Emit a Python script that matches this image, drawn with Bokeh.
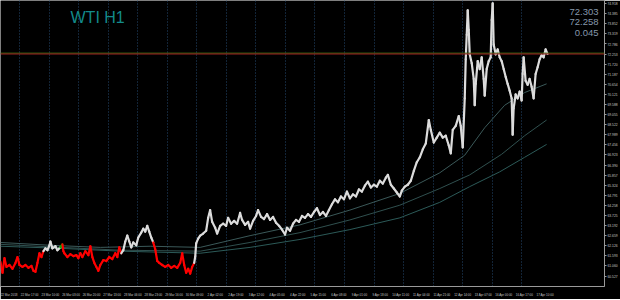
from bokeh.plotting import figure
from bokeh.models import FixedTicker, Label, Span, Range1d, NumeralTickFormatter
from bokeh.embed import file_html
from bokeh.resources import INLINE

symbol = "WTI"
timeframe = "H1"
ask = 72.303
bid = 72.258
spread = 0.045

# price path (bar index, price)
bars = [0, 1, 2, 3, 4.5, 6, 7.5, 8.5, 9.5, 11, 12.5, 14, 15.5, 16.5, 17.5, 18.5, 19.5, 20.5, 21.5,
        22.5, 23.5, 24.5, 25, 26, 27.5, 28.5, 30, 31, 31.5,
        32, 33.5, 35, 36.5, 38, 39, 40, 41, 42.5, 44, 45, 46, 47, 48, 49, 50, 51.5, 53, 54.5, 56, 57.5, 58.5, 59.5, 60.5,
        61.5, 62.5, 63.5, 64.5, 65.5, 66.5, 68, 69, 70.5, 71.5, 72.5, 73.5, 74.5, 75.5, 76.5,
        77.5, 78.5, 79.5, 81, 82.5, 84, 85.5, 87, 88.5, 90, 91, 92, 93, 94, 95, 96, 97,
        97.5, 98, 99, 100, 101.5, 103, 104, 105, 106, 107.5, 108.5, 110, 111.5, 113, 114, 115.5, 117, 118.5, 120, 121,
        122.5, 124, 125, 126.5, 128, 129, 130.5, 132, 133.5, 135, 136.5, 138, 139.5, 141, 142.5, 143.5, 145, 146.5, 148, 149.5,
        151, 152.5, 154, 155.5, 157, 158.5, 160, 161.5, 163, 164.5, 166, 167.5, 169, 170.5, 172, 173.5, 175, 176.5, 178, 179.5,
        181, 182.5, 184, 185.5, 187, 188.5, 190, 191.5, 193, 194, 195.5, 197, 198.5, 200, 201, 202.5, 204, 205.5, 207, 208.5,
        210, 211.5, 213,
        214.5, 215.5, 217, 218.5, 220, 221.5, 223, 224.5, 225.5, 226.5, 228, 229.5, 230.5, 231.5,
        232.5, 233, 233.5, 234, 234.5, 235, 236, 237, 237.5, 238, 239, 240, 241, 242, 242.5, 243.5, 244.5, 245.5, 246, 246.5,
        247, 248, 249, 250, 251, 252, 253, 254, 255, 256, 256.5, 257, 258, 259, 260, 261, 261.5, 262, 263, 264,
        265, 266, 267, 268, 269, 270, 271, 272, 273, 274]
prices = [61.27, 60.70, 61.47, 61.01, 61.11, 60.91, 61.22, 61.53, 61.11, 61.01, 61.11, 60.96, 61.06, 60.80, 60.75, 61.22, 61.73, 61.53, 61.84,
          61.99, 61.89, 62.15, 62.35, 61.99, 62.10, 61.89, 62.04, 62.20, 61.84,
          61.73, 61.53, 61.68, 61.58, 61.63, 61.47, 61.73, 61.53, 61.84, 61.63, 62.10, 61.53, 61.22, 61.01, 60.80, 61.11, 61.37, 61.32, 61.53, 61.42, 61.73, 61.53, 62.04, 61.73,
          61.89, 62.35, 62.66, 62.35, 62.04, 62.30, 62.15, 62.56, 62.82, 63.03, 62.87, 63.18, 62.87, 62.56, 62.30,
          61.94, 61.32, 61.22, 61.11, 61.01, 61.11, 60.96, 61.06, 60.96, 61.22, 61.73, 61.11, 60.70, 60.91, 60.65, 61.01, 61.22,
          61.53, 62.25, 62.50, 62.66, 62.77, 62.92, 63.60, 64.01, 63.39, 63.08, 62.77, 63.18, 63.29, 63.18, 63.60, 63.29, 63.44, 63.29, 63.86, 63.49,
          63.23, 63.39, 63.03, 63.44, 63.70, 64.01, 63.65, 63.54, 63.80, 63.49, 63.65, 63.34, 63.18, 62.98, 62.72, 63.08, 62.92, 63.29, 63.49, 63.39,
          63.70, 63.60, 63.80, 63.65, 63.91, 64.11, 63.75, 63.91, 63.70, 64.01, 64.32, 64.58, 64.42, 64.73, 64.58, 64.99, 64.63, 64.84, 64.73, 65.10,
          64.99, 65.30, 65.51, 65.20, 65.35, 65.25, 65.56, 65.41, 65.72, 65.87, 65.35, 65.15, 64.94, 64.73, 65.04, 65.25, 65.35, 65.56, 66.08, 66.54,
          66.80, 67.22, 67.53,
          68.77, 68.25, 67.58, 67.84, 68.10, 67.84, 67.94, 67.43, 67.01, 68.25, 68.46, 68.98, 68.46, 67.32,
          69.91, 71.98, 73.27, 74.57, 73.53, 72.24, 71.77, 70.94, 69.55, 70.68, 71.88, 71.46, 72.08, 70.94, 70.06, 71.46, 71.88, 72.08, 74.05, 74.93,
          72.76, 72.24, 72.50, 72.08, 71.88, 71.46, 71.05, 70.68, 70.32, 69.91, 67.99, 69.39, 70.12, 69.91, 70.27, 69.80, 71.20, 72.08, 70.84, 70.63,
          70.94, 70.53, 69.91, 71.20, 71.56, 71.98, 72.19, 72.08, 72.50, 72.26]

# candle colouring runs (bar where each run begins)
run_starts = [0, 22.5, 31, 31.5, 61.5, 77.5, 97.5]
run_colors = ["#FF0000", "#DCDCDC", "#00B000", "#FF0000", "#DCDCDC", "#FF0000", "#DCDCDC"]

# moving averages
ma_fast_bars = [0, 25, 50, 75, 100, 125, 150, 175, 200, 220, 232.5, 242.5, 252.5, 262.5, 273.5]
ma_fast = [62.30, 62.15, 62.04, 62.10, 62.04, 62.66, 63.23, 64.01, 64.89, 65.98, 66.91, 68.36, 69.55, 70.22, 70.68]
ma_mid_bars = [0, 30, 60, 100, 125, 150, 175, 200, 220, 235, 251, 262.5, 273.5]
ma_mid = [62.20, 62.04, 61.89, 61.84, 62.30, 62.82, 63.49, 64.27, 65.15, 65.87, 66.96, 67.94, 68.77]
ma_slow_bars = [0, 30, 60, 100, 125, 150, 175, 200, 220, 235, 250, 262.5, 273.5]
ma_slow = [62.10, 61.99, 61.84, 61.73, 62.04, 62.46, 62.98, 63.60, 64.42, 65.25, 66.03, 66.80, 67.48]

# vertical grid
grid_bars = [9.5, 24.3, 39.1, 53.9, 68.7, 83.5, 98.3, 113.1, 127.9, 142.7, 157.5, 172.3, 187.1, 201.9, 216.7, 231.5, 246.3, 261.1]

# time axis labels
time_label_bars = [0.5, 10.8, 21.2, 31.5, 41.8, 52.1, 62.5, 72.8, 83.1, 93.4, 103.8, 114.1, 124.4, 134.7,
                   145.1, 155.4, 165.7, 176.0, 186.4, 196.7, 207.0, 217.3, 227.7, 238.0, 248.3, 258.6, 269.0]
time_labels = ["22 Mar 2018", "22 Mar 17:00", "23 Mar 10:00", "26 Mar 03:00", "26 Mar 20:00", "27 Mar 13:00",
               "28 Mar 06:00", "28 Mar 23:00", "29 Mar 16:00", "30 Mar 09:00", "2 Apr 02:00", "2 Apr 19:00",
               "3 Apr 12:00", "4 Apr 05:00", "4 Apr 22:00", "5 Apr 15:00", "6 Apr 08:00", "9 Apr 01:00",
               "9 Apr 18:00", "10 Apr 11:00", "11 Apr 04:00", "11 Apr 21:00", "12 Apr 14:00", "13 Apr 07:00",
               "16 Apr 00:00", "16 Apr 17:00", "17 Apr 10:00"]

price_ticks = [74.918, 74.385, 73.852, 73.319, 72.786, 72.253, 71.720, 71.187, 70.654, 70.121, 69.588,
               69.055, 68.522, 67.989, 67.456, 66.923, 66.390, 65.857, 65.324, 64.791, 64.258, 63.725,
               63.192, 62.659, 62.126, 61.593, 61.060, 60.527]

# ---------------------------------------------------------------
seg_colors = []
for b in bars[1:]:
    c = run_colors[0]
    for s, col in zip(run_starts, run_colors):
        if b >= s:
            c = col
    seg_colors.append(c)

p = figure(width=620, height=299, x_range=Range1d(0, 302.5), y_range=Range1d(59.973, 75.084),
           y_axis_location="right", output_backend="svg", toolbar_location=None,
           min_border_left=0, min_border_top=0, min_border_right=15, min_border_bottom=7)
p.background_fill_color = "black"
p.border_fill_color = "black"
p.outline_line_color = None

p.ygrid.grid_line_color = None
p.xgrid.ticker = FixedTicker(ticks=grid_bars, minor_ticks=[])
p.xgrid.grid_line_color = "#24486E"
p.xgrid.grid_line_dash = "1 2"
p.xgrid.grid_line_width = 1

p.line(ma_slow_bars, ma_slow, line_color="#2C5A58", line_width=1)
p.line(ma_mid_bars, ma_mid, line_color="#30504F", line_width=1)
p.line(ma_fast_bars, ma_fast, line_color="#3B5959", line_width=1)

p.add_layout(Span(location=ask, dimension="width", line_color="#3C6E10", line_width=1))
p.add_layout(Span(location=bid, dimension="width", line_color="#A02222", line_width=1))

p.segment(x0=bars[:-1], y0=prices[:-1], x1=bars[1:], y1=prices[1:],
          line_color=seg_colors, line_width=2.2, line_cap="round")

xa = p.xaxis[0]
tick_pos = [b + 3.8 for b in time_label_bars]
xa.ticker = FixedTicker(ticks=tick_pos, minor_ticks=[])
xa.major_label_overrides = {t: lab for t, lab in zip(tick_pos, time_labels)}
xa.axis_line_color = "#9A9A9A"
xa.major_tick_line_color = None
xa.minor_tick_line_color = None
xa.major_label_text_font_size = "3px"
xa.major_label_text_color = "#C8C8C8"
xa.major_label_text_font = "Liberation Sans"
xa.major_label_standoff = 1

ya = p.yaxis[0]
ya.ticker = FixedTicker(ticks=price_ticks, minor_ticks=[])
ya.formatter = NumeralTickFormatter(format="0.000")
ya.axis_line_color = "#9A9A9A"
ya.major_tick_line_color = "#9A9A9A"
ya.major_tick_out = 2
ya.major_tick_in = 0
ya.minor_tick_line_color = None
ya.major_label_text_font_size = "3.3px"
ya.major_label_text_color = "#C8C8C8"
ya.major_label_text_font = "Liberation Sans"
ya.major_label_standoff = 1

# price boxes on the scale
p.add_layout(Label(x=606, y=ask, x_units="screen", text=f"{ask:.3f}", text_font_size="3.3px",
                   text_font="Liberation Sans", text_color="black", background_fill_color="#00C800",
                   text_baseline="bottom", text_align="left"))
p.add_layout(Label(x=606, y=ask, x_units="screen", text=f"{bid:.3f}", text_font_size="3.3px",
                   text_font="Liberation Sans", text_color="white", background_fill_color="#E00000",
                   text_baseline="top", text_align="left"))

# title (screen y measured from the bottom of the plot frame)
p.add_layout(Label(x=70, y=269, x_units="screen", y_units="screen", text=f"{symbol}  {timeframe}",
                   text_font_size="16px", text_font="Liberation Sans", text_color="#138B8B",
                   text_baseline="alphabetic", text_align="left"))

# top-right info
for i, t in enumerate([f"{ask:.3f}", f"{bid:.3f}", f"{spread:.3f}"]):
    p.add_layout(Label(x=598, y=275 - 10.6 * i, x_units="screen", y_units="screen", text=t,
                       text_font_size="9.5px", text_font="Liberation Sans", text_color="#8597AB",
                       text_baseline="alphabetic", text_align="right"))

open("out.html", "w").write(file_html(p, INLINE))
